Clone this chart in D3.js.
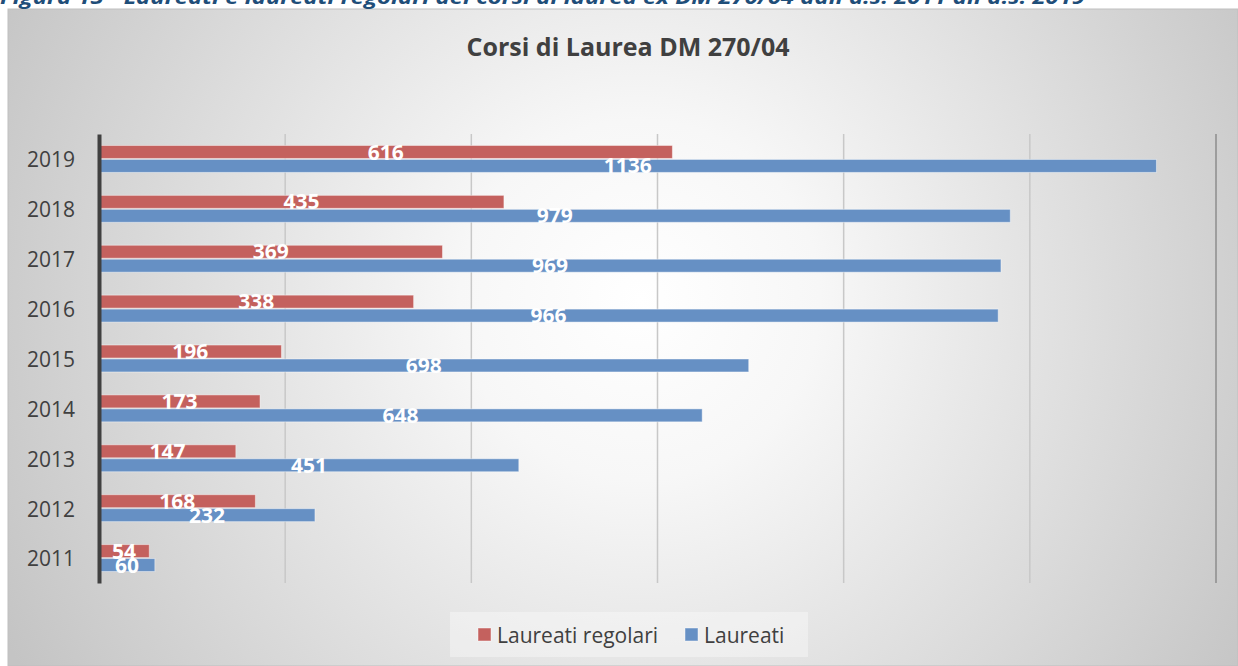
<!DOCTYPE html>
<html>
<head>
<meta charset="utf-8">
<script src="https://cdn.jsdelivr.net/npm/d3@7"></script>
<style>
  body { margin: 0; background: #fff; }
  svg text { font-family: "Open Sans", "Noto Sans", sans-serif; }
</style>
</head>
<body>
<div id="chart"></div>
<script>
// data
var years = ["2019", "2018", "2017", "2016", "2015", "2014", "2013", "2012", "2011"];
var laureatiRegolari = [616, 435, 369, 338, 196, 173, 147, 168, 54];
var laureati = [1136, 979, 969, 966, 698, 648, 451, 232, 60];
var seriesNames = ["Laureati regolari", "Laureati"];
var xTicks = [0, 200, 400, 600, 800, 1000, 1200];

var svgWidth = 1238, svgHeight = 666;
var colors = ["#c4615e", "#6690c4"];

var svg = d3.select("#chart").append("svg")
  .attr("width", svgWidth)
  .attr("height", svgHeight);

// background gradient of the chart area
var defs = svg.append("defs");
var grad = defs.append("radialGradient")
  .attr("id", "bg")
  .attr("gradientUnits", "userSpaceOnUse")
  .attr("cx", 640).attr("cy", 300).attr("r", 720);
grad.append("stop").attr("offset", "0%").attr("stop-color", "#ffffff");
grad.append("stop").attr("offset", "25%").attr("stop-color", "#f7f7f7");
grad.append("stop").attr("offset", "100%").attr("stop-color", "#c4c4c4");

svg.append("rect")
  .attr("x", 8).attr("y", 9)
  .attr("width", svgWidth - 8).attr("height", svgHeight - 9)
  .attr("fill", "url(#bg)")
  .attr("stroke", "#bfbfbf");

// caption (cut at the top)
svg.append("text")
  .attr("x", 0).attr("y", 4)
  .attr("fill", "#1f4e79")
  .attr("textLength", 1085)
  .attr("lengthAdjust", "spacingAndGlyphs")
  .style("font-size", "19px")
  .style("font-weight", "bold")
  .style("font-style", "italic")
  .text("Figura 15 - Laureati e laureati regolari dei corsi di laurea ex DM 270/04 dall'a.s. 2011 all'a.s. 2019");

// title
svg.append("text")
  .attr("x", 628).attr("y", 56)
  .attr("text-anchor", "middle")
  .attr("fill", "#404040")
  .style("font-size", "25px")
  .style("font-weight", "bold")
  .text("Corsi di Laurea DM 270/04");

var margin = { left: 99, top: 134 };
var chartWidth = 1216 - margin.left;
var chartHeight = 583 - margin.top;

var g = svg.append("g")
  .attr("transform", `translate(${margin.left}, ${margin.top})`);

var x = d3.scaleLinear().domain([0, 1200]).range([0, chartWidth]);
var y = d3.scaleBand().domain(years).range([0, chartHeight]).paddingInner(0.44).paddingOuter(0.22);
var ySub = d3.scaleBand().domain(seriesNames).range([0, y.bandwidth()]);

// gridlines
g.append("g").selectAll("line")
  .data(xTicks.slice(1))
  .enter().append("line")
  .attr("x1", d => x(d)).attr("x2", d => x(d))
  .attr("y1", 0).attr("y2", chartHeight)
  .attr("stroke", (d, i) => i === xTicks.length - 2 ? "#8c8c8c" : "#c8c8c8")
  .attr("stroke-width", 1.5);

// bars
var rows = years.map((yr, i) => ({ year: yr, values: [laureatiRegolari[i], laureati[i]] }));

var groups = g.append("g").selectAll("g")
  .data(rows)
  .enter().append("g")
  .attr("transform", d => `translate(0, ${y(d.year)})`);

groups.selectAll("rect")
  .data(d => d.values.map((v, j) => ({ name: seriesNames[j], value: v, j: j })))
  .enter().append("rect")
  .attr("x", 1)
  .attr("y", d => ySub(d.name) + 0.5)
  .attr("width", d => x(d.value) - 1)
  .attr("height", ySub.bandwidth() - 1)
  .attr("fill", d => colors[d.j])
  .attr("stroke", "#ffffff")
  .attr("stroke-opacity", 0.45)
  .attr("stroke-width", 1);

groups.selectAll("text")
  .data(d => d.values.map((v, j) => ({ name: seriesNames[j], value: v })))
  .enter().append("text")
  .attr("x", d => x(d.value) / 2)
  .attr("y", d => ySub(d.name) + ySub.bandwidth() / 2)
  .attr("dy", "0.36em")
  .attr("text-anchor", "middle")
  .attr("fill", "#ffffff")
  .style("font-size", "21px")
  .style("font-weight", "bold")
  .text(d => d.value);

// axis
var leftAxis = d3.axisLeft(y).tickSize(0).tickPadding(24);
var axisG = g.append("g").call(leftAxis);
axisG.select(".domain").attr("stroke", "#404040").attr("stroke-width", 4);
axisG.selectAll("text")
  .attr("fill", "#404040")
  .style("font-size", "21px")
  .attr("dy", "0.4em");

// legend
var legend = svg.append("g");
legend.append("rect")
  .attr("x", 450).attr("y", 612)
  .attr("width", 358).attr("height", 45)
  .attr("fill", "#ffffff").attr("fill-opacity", 0.35);

var legendX = [478, 685];
seriesNames.forEach(function(name, i) {
  legend.append("rect")
    .attr("x", legendX[i]).attr("y", 628)
    .attr("width", 13).attr("height", 13)
    .attr("fill", colors[i])
    .attr("stroke", "#ffffff").attr("stroke-opacity", 0.45);
  legend.append("text")
    .attr("x", legendX[i] + 19).attr("y", 643)
    .attr("fill", "#404040")
    .style("font-size", "21px")
    .text(name);
});
</script>
</body>
</html>
